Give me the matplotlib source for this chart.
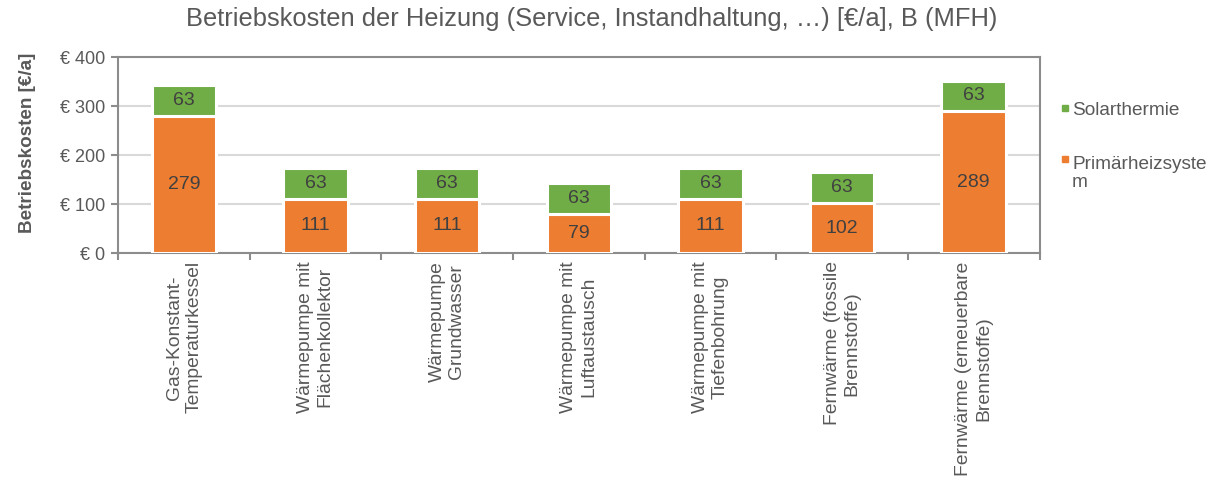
import matplotlib.pyplot as plt
from matplotlib.patches import Rectangle
import numpy as np

plt.rcParams['font.family'] = ['Liberation Sans', 'DejaVu Sans']

categories = [
    "Gas-Konstant-\nTemperaturkessel",
    "Wärmepumpe mit\nFlächenkollektor",
    "Wärmepumpe\nGrundwasser",
    "Wärmepumpe mit\nLuftaustausch",
    "Wärmepumpe mit\nTiefenbohrung",
    "Fernwärme (fossile\nBrennstoffe)",
    "Fernwärme (erneuerbare\nBrennstoffe)",
]
primaer = [279, 111, 111, 79, 111, 102, 289]
solar = [63, 63, 63, 63, 63, 63, 63]
yticks = [0, 100, 200, 300, 400]
ytick_labels = ["€ 0", "€ 100", "€ 200", "€ 300", "€ 400"]
legend_labels = ["Solarthermie", "Primärheizsyste\nm"]

orange = "#ED7D31"
green = "#70AD47"
text_grey = "#595959"
spine_grey = "#8C8C8C"

W, H = 1213, 479
fig = plt.figure(figsize=(W / 100, H / 100), dpi=100)
ax = fig.add_axes([0.0973, 0.4718, 0.7597, 0.4092])

x = np.arange(len(categories))
bar_w = 0.49
ax.bar(x, primaer, width=bar_w, color=orange, edgecolor="white", linewidth=2.2, zorder=3)
ax.bar(x, solar, width=bar_w, bottom=primaer, color=green, edgecolor="white",
       linewidth=2.2, zorder=3)

for xi, p, s in zip(x, primaer, solar):
    ax.text(xi, p / 2, f"{p}", ha="center", va="center", fontsize=14, color="#404040", zorder=4)
    ax.text(xi, p + s / 2, f"{s}", ha="center", va="center", fontsize=14, color="#404040", zorder=4)

ax.set_xlim(-0.5, len(categories) - 0.5)
ax.set_ylim(0, 400)
ax.set_yticks(yticks)
ax.set_yticklabels(ytick_labels, fontsize=13, color=text_grey)
ax.yaxis.grid(True, color="#D9D9D9", linewidth=1.5, zorder=0)
ax.set_axisbelow(True)

# category boundaries carry the tick marks, labels sit at the centres
ax.set_xticks(np.arange(len(categories) + 1) - 0.5)
ax.set_xticklabels([])
ax.set_xticks(x, minor=True)
ax.set_xticklabels(categories, minor=True, rotation=90, ha="center", va="top",
                   multialignment="center", fontsize=13.9, color=text_grey)
ax.tick_params(axis="x", which="minor", length=0, pad=6)
ax.tick_params(axis="x", which="major", length=5, width=1.5, color=spine_grey)
ax.tick_params(axis="y", length=5, width=1.5, color=spine_grey, pad=4)

for sp in ax.spines.values():
    sp.set_color(spine_grey)
    sp.set_linewidth(1.5)

ax.set_ylabel("Betriebskosten [€/a]", fontsize=13.6, fontweight="bold", color=text_grey)
ax.yaxis.set_label_coords(-0.0895, 0.56)
fig.suptitle("Betriebskosten der Heizung (Service, Instandhaltung, …) [€/a], B (MFH)",
             x=0.488, y=0.96, va="center", fontsize=18.4, color=text_grey)

# legend on the right: small square markers, first text line centred on the marker
legend_colors = [green, orange]
legend_rows = [108, 159]
leg_size = 13.7
line_px = 1.1 * leg_size * 100 / 72
for lab, col, row in zip(legend_labels, legend_colors, legend_rows):
    fig.patches.append(Rectangle((1062 / W, 1 - (row + 3) / H), 6 / W, 6 / H,
                                 transform=fig.transFigure, color=col))
    # baseline alignment refers to the last line of a multi-line text
    base = row + 7 + (lab.count("\n")) * line_px
    fig.text(1072 / W, 1 - base / H, lab, ha="left", va="baseline", fontsize=leg_size,
             color=text_grey, linespacing=1.1)

fig.savefig("out.png", dpi=100)
